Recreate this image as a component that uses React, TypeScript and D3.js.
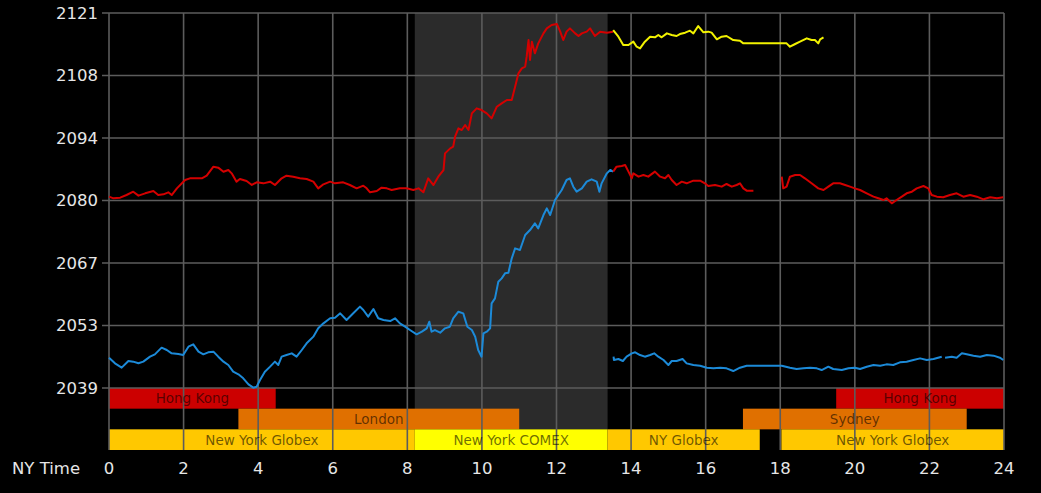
import React from "react";
import * as d3 from "d3";

type Pt = [number, number | null];

const xTickValues = [0, 2, 4, 6, 8, 10, 12, 14, 16, 18, 20, 22, 24];
const yTickLabels = ["2039", "2053", "2067", "2080", "2094", "2108", "2121"];
const yDomain: [number, number] = [2039, 2121];
const comexWindow: [number, number] = [8.2, 13.37];

const sessionRows = ["asia", "europe", "us"];
const sessionLabels = ["Hong Kong", "Hong Kong", "London", "Sydney", "New York Globex", "New York COMEX", "NY Globex", "New York Globex"];
const sessionRowIdx = [0, 0, 1, 1, 2, 2, 2, 2];
const sessionStart = [0, 19.5, 3.47, 17.0, 0, 8.2, 13.37, 18.03];
const sessionEnd = [4.47, 24, 11.0, 23.0, 8.2, 13.37, 17.45, 24];
const sessionColors = ["#cc0000", "#cc0000", "#e07000", "#e07000", "#ffc800", "#ffff00", "#ffc800", "#ffc800"];

const redA: Pt[] = [
  [0, 2080.84], [0.12, 2080.47], [0.3, 2080.62], [0.47, 2081.2], [0.65, 2081.93], [0.79, 2081.06], [0.97, 2081.57],
  [1.19, 2082.08], [1.32, 2081.2], [1.46, 2081.35], [1.59, 2081.79], [1.68, 2081.2], [1.82, 2082.66], [2.04, 2084.48],
  [2.17, 2084.85], [2.35, 2084.85], [2.49, 2084.85], [2.62, 2085.43], [2.8, 2087.4], [2.93, 2087.18], [3.07, 2086.3],
  [3.2, 2086.67], [3.29, 2085.94], [3.42, 2084.12], [3.51, 2084.7], [3.69, 2084.26], [3.83, 2083.39], [3.96, 2083.97],
  [4.14, 2083.75], [4.32, 2084.12], [4.45, 2083.39], [4.63, 2084.85], [4.76, 2085.43], [4.94, 2085.21], [5.12, 2084.85],
  [5.3, 2084.7], [5.48, 2084.12], [5.61, 2082.66], [5.75, 2083.54], [5.93, 2084.12], [6.06, 2083.75], [6.28, 2083.97],
  [6.46, 2083.39], [6.64, 2082.66], [6.82, 2083.24], [6.91, 2082.66], [7.0, 2081.79], [7.18, 2082.08], [7.31, 2082.81],
  [7.45, 2082.66], [7.58, 2082.3], [7.8, 2082.66], [7.98, 2082.66], [8.16, 2082.3], [8.3, 2082.66], [8.43, 2081.79],
  [8.56, 2084.84], [8.7, 2083.38], [8.83, 2085.2], [8.97, 2086.66], [9.01, 2090.31], [9.15, 2091.4], [9.23, 2091.77],
  [9.28, 2093.95], [9.37, 2095.78], [9.46, 2095.41], [9.55, 2096.5], [9.64, 2095.41], [9.73, 2099.06], [9.86, 2100.15],
  [9.99, 2099.78], [10.13, 2099.06], [10.26, 2097.96], [10.4, 2100.51], [10.53, 2101.24], [10.67, 2101.97], [10.8, 2101.97],
  [10.89, 2104.89], [10.98, 2107.8], [11.07, 2108.9], [11.16, 2109.26], [11.2, 2111.45], [11.25, 2115.09], [11.29, 2110.72],
  [11.34, 2114.73], [11.42, 2112.18], [11.51, 2114.36], [11.65, 2116.55], [11.74, 2117.64], [11.87, 2118.37], [12.01, 2118.59],
  [12.1, 2116.92], [12.18, 2115.09], [12.27, 2116.92], [12.36, 2117.64], [12.5, 2116.55], [12.59, 2115.97], [12.68, 2116.55],
  [12.81, 2116.92], [12.9, 2117.64], [13.03, 2115.97], [13.17, 2116.92], [13.35, 2116.7], [13.52, 2116.92],
];

const yellowB: Pt[] = [
  [13.52, 2117.28], [13.66, 2115.82], [13.79, 2114.0], [13.93, 2114.0], [14.06, 2114.73], [14.15, 2113.63], [14.24, 2113.27],
  [14.37, 2114.73], [14.51, 2115.82], [14.64, 2115.68], [14.73, 2116.19], [14.82, 2115.68], [14.96, 2116.55], [15.09, 2116.19],
  [15.22, 2115.97], [15.31, 2116.4], [15.45, 2116.7], [15.58, 2117.13], [15.67, 2116.55], [15.8, 2118.15], [15.94, 2116.77],
  [16.07, 2116.92], [16.16, 2116.7], [16.3, 2115.24], [16.43, 2115.82], [16.56, 2115.97], [16.74, 2115.09], [16.92, 2114.95],
  [17.01, 2114.36], [17.37, 2114.36], [17.82, 2114.36], [18.17, 2114.36], [18.26, 2113.63], [18.4, 2114.22], [18.53, 2114.73],
  [18.71, 2115.46], [18.84, 2115.09], [18.93, 2115.09], [19.02, 2114.36], [19.07, 2115.24], [19.16, 2115.68],
];

const blueA: Pt[] = [
  [0, 2045.63], [0.16, 2044.4], [0.34, 2043.45], [0.52, 2044.91], [0.65, 2044.76], [0.79, 2044.4], [0.92, 2044.76],
  [1.1, 2045.85], [1.23, 2046.36], [1.41, 2047.82], [1.55, 2047.31], [1.68, 2046.58], [1.86, 2046.44], [1.99, 2046.22],
  [2.13, 2048.04], [2.26, 2048.55], [2.4, 2046.95], [2.53, 2046.36], [2.66, 2046.8], [2.8, 2046.95], [2.93, 2045.85],
  [3.07, 2044.76], [3.2, 2044.03], [3.33, 2042.57], [3.47, 2041.99], [3.6, 2041.12], [3.74, 2039.8], [3.87, 2039.07],
  [3.96, 2039.29], [4.05, 2040.75], [4.18, 2042.57], [4.32, 2043.67], [4.45, 2044.76], [4.54, 2044.03], [4.63, 2045.85],
  [4.76, 2046.22], [4.9, 2046.58], [5.03, 2045.85], [5.17, 2047.31], [5.3, 2048.77], [5.48, 2050.23], [5.61, 2052.05],
  [5.75, 2053.14], [5.93, 2054.24], [6.06, 2054.38], [6.2, 2055.33], [6.37, 2053.87], [6.55, 2055.33], [6.73, 2056.79],
  [6.82, 2056.06], [6.95, 2054.6], [7.09, 2056.28], [7.22, 2054.24], [7.36, 2053.87], [7.54, 2053.65], [7.67, 2054.24],
  [7.8, 2053.14], [7.94, 2052.41], [8.07, 2051.69], [8.25, 2050.74], [8.39, 2051.32], [8.52, 2052.04], [8.59, 2053.5],
  [8.65, 2051.31], [8.74, 2051.67], [8.88, 2051.09], [9.01, 2052.04], [9.14, 2052.4], [9.23, 2054.23], [9.37, 2055.68],
  [9.5, 2055.32], [9.61, 2052.4], [9.73, 2051.67], [9.82, 2050.22], [9.9, 2047.3], [9.99, 2045.84], [10.04, 2050.95],
  [10.13, 2051.31], [10.22, 2052.04], [10.26, 2057.51], [10.35, 2058.6], [10.44, 2062.25], [10.53, 2062.97], [10.62, 2064.07],
  [10.71, 2064.21], [10.8, 2067.35], [10.89, 2069.53], [11.02, 2069.17], [11.16, 2072.45], [11.29, 2073.54], [11.42, 2075.0],
  [11.51, 2073.91], [11.65, 2076.82], [11.74, 2078.28], [11.83, 2076.82], [11.96, 2080.1], [12.14, 2082.29], [12.27, 2084.48],
  [12.36, 2084.84], [12.45, 2083.02], [12.54, 2081.93], [12.68, 2082.66], [12.81, 2084.12], [12.94, 2084.63], [13.08, 2084.12],
  [13.15, 2081.93], [13.21, 2083.75], [13.35, 2085.94], [13.44, 2086.67], [13.52, 2086.31],
];

const redB: Pt[] = [
  [13.52, 2086.31], [13.61, 2087.4], [13.75, 2087.55], [13.84, 2087.77], [13.93, 2086.31], [14.02, 2084.85], [14.06, 2085.94],
  [14.2, 2085.21], [14.33, 2085.58], [14.46, 2085.21], [14.64, 2086.31], [14.78, 2085.21], [14.91, 2084.85], [15.0, 2085.58],
  [15.09, 2084.49], [15.22, 2083.39], [15.36, 2084.12], [15.49, 2083.76], [15.67, 2084.34], [15.85, 2084.34], [15.98, 2083.76],
  [16.07, 2083.17], [16.25, 2083.39], [16.43, 2083.03], [16.56, 2083.61], [16.7, 2083.03], [16.83, 2083.39], [16.92, 2083.76],
  [17.01, 2082.66], [17.1, 2082.15], [17.28, 2082.15], [17.6, null],
  [18.04, 2085.21], [18.08, 2082.66], [18.17, 2083.03], [18.26, 2085.21], [18.4, 2085.58], [18.53, 2085.58], [18.66, 2084.85],
  [18.84, 2083.76], [19.02, 2082.66], [19.16, 2082.3], [19.29, 2083.03], [19.42, 2083.76], [19.6, 2083.76], [19.74, 2083.39],
  [19.87, 2083.03], [20.0, 2082.66], [20.14, 2082.3], [20.32, 2081.57], [20.5, 2080.84], [20.63, 2080.48], [20.77, 2080.11],
  [20.85, 2080.48], [20.99, 2079.38], [21.12, 2080.11], [21.26, 2080.84], [21.39, 2081.57], [21.53, 2081.93], [21.66, 2082.66],
  [21.84, 2083.17], [21.97, 2082.66], [22.06, 2081.2], [22.2, 2080.84], [22.37, 2080.7], [22.55, 2081.2], [22.73, 2081.57],
  [22.91, 2080.84], [23.09, 2081.2], [23.27, 2080.84], [23.45, 2080.26], [23.63, 2080.7], [23.81, 2080.48], [23.98, 2080.7],
];

const blueB: Pt[] = [
  [13.53, 2045.85], [13.54, 2045.12], [13.66, 2045.34], [13.78, 2044.9], [13.88, 2045.85], [14.02, 2046.58], [14.11, 2046.8],
  [14.24, 2046.21], [14.37, 2045.85], [14.51, 2046.21], [14.62, 2046.58], [14.73, 2045.85], [14.87, 2045.12], [15.0, 2044.03],
  [15.09, 2044.9], [15.22, 2044.9], [15.38, 2045.34], [15.49, 2044.39], [15.67, 2044.03], [15.85, 2043.88], [16.03, 2043.44],
  [16.21, 2043.3], [16.39, 2043.44], [16.56, 2043.3], [16.74, 2042.71], [16.92, 2043.44], [17.1, 2043.88], [17.46, 2043.88],
  [17.82, 2043.88], [18.04, 2043.88], [18.26, 2043.44], [18.44, 2043.15], [18.62, 2043.3], [18.8, 2043.44], [18.98, 2043.3],
  [19.11, 2042.93], [19.29, 2043.66], [19.42, 2043.15], [19.65, 2042.93], [19.83, 2043.3], [20.0, 2043.44], [20.14, 2043.15],
  [20.32, 2043.66], [20.5, 2044.03], [20.68, 2043.88], [20.85, 2044.17], [21.03, 2044.03], [21.21, 2044.61], [21.39, 2044.76],
  [21.57, 2045.12], [21.75, 2045.48], [21.93, 2045.12], [22.11, 2045.34], [22.33, 2045.85], [22.37, null],
  [22.42, 2045.63], [22.6, 2045.85], [22.73, 2045.63], [22.87, 2046.58], [23.0, 2046.36], [23.18, 2046.07], [23.36, 2045.85],
  [23.54, 2046.21], [23.72, 2046.07], [23.89, 2045.63], [23.98, 2045.12],
];

const seriesList: { data: Pt[]; color: string }[] = [
  { data: redA, color: "#d40000" },
  { data: yellowB, color: "#f2f200" },
  { data: blueA, color: "#1c8ad8" },
  { data: redB, color: "#d40000" },
  { data: blueB, color: "#1c8ad8" },
];

export default function App() {
  const W = 1041;
  const H = 493;
  const plotTop = 13;
  const plotBottom = 450;
  const x = d3.scaleLinear().domain([0, 24]).range([109, 1004]);
  const y = d3.scaleLinear().domain(yDomain).range([388, plotTop]);
  const row = d3.scaleBand<string>().domain(sessionRows).range([388, plotBottom]);
  const yTickValues = yTickLabels.map((_, i) => yDomain[0] + (i * (yDomain[1] - yDomain[0])) / (yTickLabels.length - 1));
  const line = d3
    .line<Pt>()
    .defined((d) => d[1] !== null)
    .x((d) => x(d[0]))
    .y((d) => y(d[1] as number));
  const grid = "#5c5c5c";
  const font = "DejaVu Sans, Verdana, sans-serif";
  const rowH = row.bandwidth();

  return (
    <svg width={W} height={H} style={{ position: "absolute", left: 0, top: 0, background: "#000" }}>
      <rect x={0} y={0} width={W} height={H} fill="#000" />
      {/* COMEX shading */}
      <rect
        x={x(comexWindow[0])}
        y={plotTop}
        width={x(comexWindow[1]) - x(comexWindow[0])}
        height={(row("us") as number) - plotTop}
        fill="#2b2b2b"
      />
      {/* session bars */}
      {sessionLabels.map((lab, i) => {
        const r = row(sessionRows[sessionRowIdx[i]]) as number;
        const x0 = x(sessionStart[i]);
        const x1 = x(sessionEnd[i]);
        return <rect key={"sb" + i} x={x0} y={r} width={x1 - x0} height={rowH} fill={sessionColors[i]} />;
      })}
      {/* grid */}
      {xTickValues.map((t) => (
        <line key={"vx" + t} x1={x(t)} x2={x(t)} y1={plotTop} y2={plotBottom} stroke={grid} strokeWidth={1.6} />
      ))}
      {yTickValues.map((v, i) => (
        <line key={"hy" + i} x1={102} x2={x(24)} y1={y(v)} y2={y(v)} stroke={grid} strokeWidth={1.6} />
      ))}
      {/* session labels */}
      {sessionLabels.map((lab, i) => {
        const r = row(sessionRows[sessionRowIdx[i]]) as number;
        const cx = (x(sessionStart[i]) + x(sessionEnd[i])) / 2;
        return (
          <text
            key={"sl" + i}
            x={cx}
            y={r + rowH / 2 + 1}
            textAnchor="middle"
            dominantBaseline="middle"
            fontFamily={font}
            fontSize={13.5}
            fill="#000"
            fillOpacity={0.58}
          >
            {lab}
          </text>
        );
      })}
      {/* series */}
      {seriesList.map((s, i) => (
        <path
          key={"s" + i}
          d={line(s.data) || ""}
          fill="none"
          stroke={s.color}
          strokeWidth={2}
          strokeLinejoin="round"
        />
      ))}
      {/* y labels */}
      {yTickValues.map((v, i) => (
        <text
          key={"yl" + i}
          x={98}
          y={y(v) + 1}
          textAnchor="end"
          dominantBaseline="middle"
          fontFamily={font}
          fontSize={16.5}
          fill="#e6e6e6"
        >
          {yTickLabels[i]}
        </text>
      ))}
      {/* x labels */}
      {xTickValues.map((t) => (
        <text
          key={"xl" + t}
          x={x(t)}
          y={469}
          textAnchor="middle"
          dominantBaseline="middle"
          fontFamily={font}
          fontSize={16.5}
          fill="#e6e6e6"
        >
          {t}
        </text>
      ))}
      <text x={12} y={469} dominantBaseline="middle" fontFamily={font} fontSize={16.5} fill="#e6e6e6">
        NY Time
      </text>
    </svg>
  );
}
